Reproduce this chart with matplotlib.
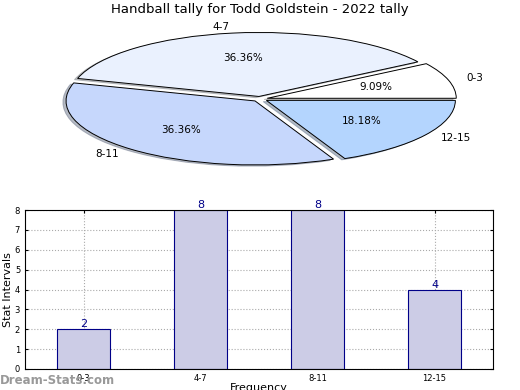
import matplotlib
matplotlib.use("Agg")
import matplotlib.pyplot as plt

categories = ["0-3", "4-7", "8-11", "12-15"]
counts = [2, 8, 8, 4]
pie_colors = ["#ffffff", "#eaf1fe", "#c6d7fc", "#b4d5fe"]
title = "Handball tally for Todd Goldstein - 2022 tally"

fig = plt.figure(figsize=(5.2, 3.9), dpi=100)

# Pie axes (squashed ellipse)
W, H = 520.0, 390.0
cx, cy, rx, ry = 260, 99, 189, 64
lim = 1.12
axp = fig.add_axes([(cx - rx * lim) / W, (H - cy - ry * lim) / H,
                    2 * rx * lim / W, 2 * ry * lim / H])
wedges, texts, autotexts = axp.pie(
    counts, labels=categories, colors=pie_colors, startangle=0,
    explode=[0.04] * 4, shadow=dict(ox=-0.012, oy=-0.014, shade=0.45),
    autopct="%.2f%%", pctdistance=0.6,
    labeldistance=1.1, wedgeprops=dict(edgecolor="black", linewidth=0.7),
    textprops=dict(fontsize=7.5))
axp.set_xlim(-lim, lim)
axp.set_ylim(-lim, lim)
axp.set_aspect("auto")
fig.text(0.5, 1 - 10 / H, title, ha="center", va="center", fontsize=9.5)

# Bar axes
axb = fig.add_axes([25 / W, 21 / H, 468 / W, 159 / H])
x = list(range(len(categories)))
axb.bar(x, counts, width=0.45, color="#ccccE6", edgecolor="#000088", linewidth=0.8, zorder=2)
for xi, v in zip(x, counts):
    axb.text(xi, v, str(v), ha="center", va="bottom", color="#000088", fontsize=8)
axb.set_xlim(-0.5, 3.5)
axb.set_ylim(0, 8)
axb.set_xticks(x)
axb.set_xticklabels(categories, fontsize=6)
axb.set_yticks(range(0, 9))
axb.tick_params(axis="y", labelsize=6, right=True, direction="in", length=2)
axb.tick_params(axis="x", direction="in", length=2, top=True)
axb.grid(True, linestyle=":", color="#aaaaaa", linewidth=0.8, zorder=0)
axb.set_axisbelow(True)
axb.set_ylabel("Stat Intervals", fontsize=8)
axb.yaxis.set_label_coords(-0.025, 0.5)
axb.set_xlabel("Frequency", fontsize=8, labelpad=0)

fig.text(0.0, 10 / H, "Dream-Stats.com", color="#999999", fontsize=8.5,
         fontweight="bold", ha="left", va="center")

fig.savefig("out.png", dpi=100)
